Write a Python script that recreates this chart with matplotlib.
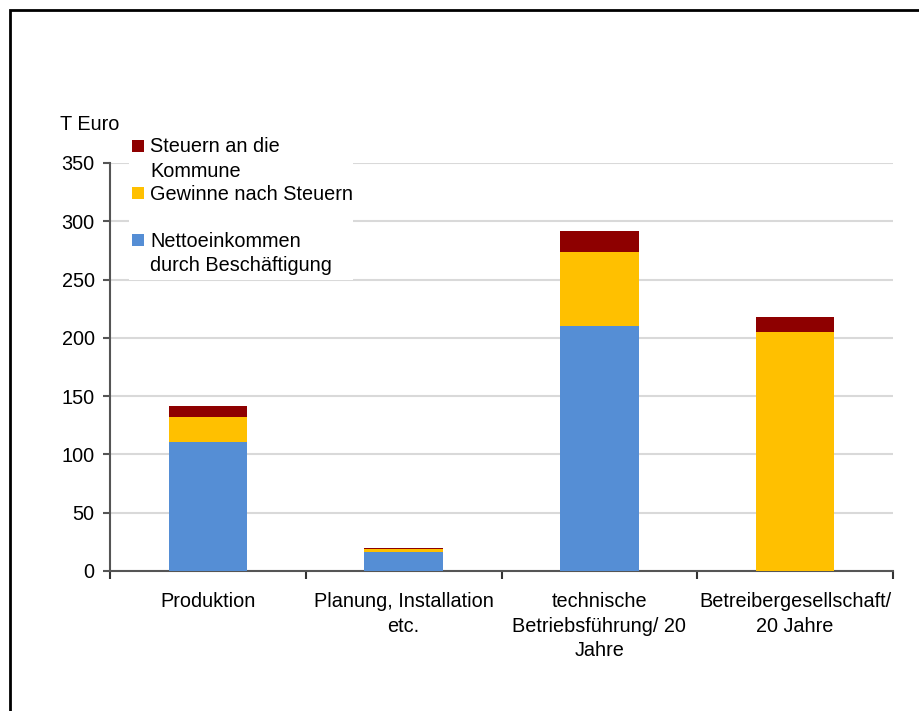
import matplotlib
matplotlib.use('Agg')
import matplotlib.pyplot as plt
from matplotlib.patches import Rectangle
import numpy as np

plt.rcParams['font.family'] = ['Liberation Sans', 'DejaVu Sans']

categories = ["Produktion", "Planung, Installation\netc.",
              "technische\nBetriebsführung/ 20\nJahre",
              "Betreibergesellschaft/\n20 Jahre"]
netto = [111, 16, 210, 0]
gewinne = [21, 2.5, 64, 205]
steuern = [9.5, 1.5, 18, 13]

series_names = ["Steuern an die\nKommune", "Gewinne nach Steuern",
                "Nettoeinkommen\ndurch Beschäftigung"]
colors = {"netto": "#558ED5", "gewinne": "#FFC000", "steuern": "#8E0000"}

W, H = 919, 711
fig = plt.figure(figsize=(W / 100, H / 100), dpi=100)
ax = fig.add_axes([110 / W, 1 - 571 / H, (893 - 110) / W, (571 - 163) / H])

x = np.arange(len(categories))
bw = 0.4
ax.bar(x, netto, bw, color=colors["netto"], zorder=3)
ax.bar(x, gewinne, bw, bottom=netto, color=colors["gewinne"], zorder=3)
base = np.array(netto) + np.array(gewinne)
ax.bar(x, steuern, bw, bottom=base, color=colors["steuern"], zorder=3)

ax.set_xlim(-0.5, len(categories) - 0.5)
ax.set_ylim(0, 350)
ax.set_yticks(range(0, 351, 50))
ax.yaxis.grid(True, color="#D9D9D9", linewidth=1.5, zorder=0)
ax.set_axisbelow(True)

# category labels centred, ticks on the category boundaries
ax.set_xticks(np.arange(-0.5, len(categories), 1.0))
ax.set_xticklabels([])
ax.set_xticks(x, minor=True)
ax.set_xticklabels(categories, minor=True, fontsize=14.3, linespacing=1.38)
ax.tick_params(axis="x", which="minor", length=0, pad=15)
ax.tick_params(axis="x", which="major", length=6, width=1.5, color="#333333")
ax.tick_params(axis="y", length=5, width=1.5, color="#555555", labelsize=14.3, pad=6)

for side in ["top", "right"]:
    ax.spines[side].set_visible(False)
ax.spines["left"].set_color("#555555")
ax.spines["left"].set_linewidth(1.5)
ax.spines["bottom"].set_color("#555555")
ax.spines["bottom"].set_linewidth(1.5)

fig.text(60 / W, 1 - 124 / H, "T Euro", fontsize=14.3, va="center", ha="left")

# legend box drawn by hand so markers sit on the first text line
fig.patches.append(Rectangle((129 / W, 1 - 280 / H), (353 - 129) / W, (280 - 133) / H,
                             transform=fig.transFigure, facecolor="white",
                             edgecolor="none", zorder=5))
legend_colors = [colors["steuern"], colors["gewinne"], colors["netto"]]
legend_y = [145, 192, 239]
for name, col, yy in zip(series_names, legend_colors, legend_y):
    fig.patches.append(Rectangle((132 / W, 1 - (yy + 7) / H), 12 / W, 12 / H,
                                 transform=fig.transFigure, facecolor=col,
                                 edgecolor="none", zorder=6))
    fig.text(150 / W, 1 - (yy - 7.5) / H, name, fontsize=14.3, va="top", ha="left",
             linespacing=1.38, zorder=7)

# outer frame, cut off at the right and bottom edges
fig.patches.append(Rectangle((10 / W, -0.05), 1.2, (H - 10) / H + 0.05,
                             transform=fig.transFigure, fill=False,
                             edgecolor="black", linewidth=2))

fig.savefig("out.png", dpi=100)
